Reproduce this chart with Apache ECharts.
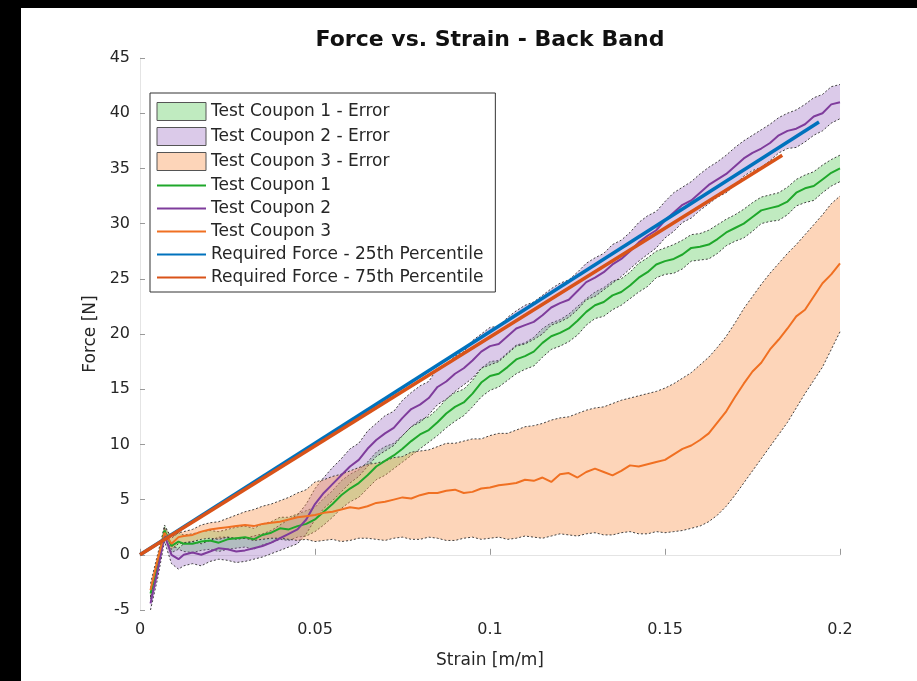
<!DOCTYPE html>
<html>
<head>
<meta charset="utf-8">
<title>Force vs. Strain - Back Band</title>
<script src="https://cdn.jsdelivr.net/npm/echarts@6/dist/echarts.min.js"></script>
<style>
  html, body { margin: 0; padding: 0; background: #000; overflow: hidden; }
  #chart { position: absolute; left: 21px; top: 8px; width: 896px; height: 673px; background: #fff; }
</style>
</head>
<body>
<div id="chart"></div>
<script>
// strain samples shared by all three coupons
const strain = [0.003, 0.005, 0.007, 0.009, 0.011, 0.0125,
  0.015, 0.0175, 0.02, 0.0225, 0.025, 0.0275, 0.03, 0.0325, 0.035, 0.0375,
  0.04, 0.0425, 0.045, 0.0475, 0.05, 0.0525, 0.055, 0.0575, 0.06, 0.0625,
  0.065, 0.0675, 0.07, 0.0725, 0.075, 0.0775, 0.08, 0.0825, 0.085, 0.0875,
  0.09, 0.0925, 0.095, 0.0975, 0.1, 0.1025, 0.105, 0.1075, 0.11, 0.1125,
  0.115, 0.1175, 0.12, 0.1225, 0.125, 0.1275, 0.13, 0.1325, 0.135, 0.1375,
  0.14, 0.1425, 0.145, 0.1475, 0.15, 0.1525, 0.155, 0.1575, 0.16, 0.1625,
  0.165, 0.1675, 0.17, 0.1725, 0.175, 0.1775, 0.18, 0.1825, 0.185, 0.1875,
  0.19, 0.1925, 0.195, 0.1975, 0.2];

const coupon1 = [-3.5, -1.0, 2.2, 0.8, 1.2, 1.0,
  1.0, 1.2, 1.3, 1.1, 1.4, 1.5, 1.6, 1.4, 1.8, 2.0,
  2.4, 2.3, 2.6, 2.8, 3.2, 3.9, 4.6, 5.4, 6.0, 6.5,
  7.2, 8.0, 8.5, 9.0, 9.6, 10.3, 10.9, 11.3, 12.0, 12.8,
  13.4, 13.8, 14.6, 15.6, 16.2, 16.4, 17.0, 17.7, 18.0, 18.4,
  19.2, 19.8, 20.1, 20.5, 21.2, 22.0, 22.6, 22.9, 23.5, 23.8,
  24.4, 25.1, 25.6, 26.3, 26.6, 26.8, 27.2, 27.8, 27.9, 28.1,
  28.6, 29.2, 29.6, 30.0, 30.6, 31.2, 31.4, 31.6, 32.0, 32.8,
  33.2, 33.4, 34.0, 34.6, 35.0];
const coupon1Hi = [-3.0, -0.5, 2.7, 1.5, 2.0, 1.8,
  1.9, 2.1, 2.2, 2.1, 2.3, 2.5, 2.6, 2.4, 2.8, 3.0,
  3.4, 3.4, 3.7, 4.0, 4.3, 5.1, 5.8, 6.7, 7.3, 7.7,
  8.4, 9.3, 9.8, 10.1, 10.8, 11.6, 12.2, 12.5, 13.2, 14.1,
  14.7, 15.0, 15.8, 16.9, 17.5, 17.6, 18.3, 19.0, 19.2, 19.7,
  20.5, 21.0, 21.3, 21.8, 22.5, 23.2, 23.8, 24.2, 24.8, 25.0,
  25.6, 26.4, 26.9, 27.5, 27.8, 28.1, 28.5, 29.0, 29.1, 29.4,
  29.9, 30.4, 30.8, 31.3, 31.9, 32.4, 32.6, 32.8, 33.3, 34.0,
  34.4, 34.7, 35.3, 35.8, 36.2];
const coupon1Lo = [-4.0, -1.5, 1.7, 0.2, 0.5, 0.3,
  0.2, 0.4, 0.5, 0.3, 0.5, 0.6, 0.7, 0.5, 0.9, 1.1,
  1.4, 1.3, 1.6, 1.7, 2.1, 2.7, 3.4, 4.2, 4.8, 5.2,
  6.0, 6.8, 7.2, 7.8, 8.4, 9.0, 9.6, 10.2, 10.8, 11.5,
  12.1, 12.6, 13.4, 14.3, 14.9, 15.2, 15.8, 16.4, 16.8, 17.1,
  17.9, 18.6, 18.9, 19.3, 19.9, 20.8, 21.4, 21.6, 22.2, 22.6,
  23.2, 23.8, 24.3, 25.1, 25.4, 25.5, 25.9, 26.6, 26.7, 26.8,
  27.3, 28.0, 28.4, 28.7, 29.3, 30.0, 30.2, 30.3, 30.8, 31.6,
  31.9, 32.1, 32.8, 33.4, 33.8];

const coupon2 = [-4.4, -1.5, 1.8, 0.0, -0.4, 0.0,
  0.2, 0.0, 0.3, 0.6, 0.5, 0.3, 0.4, 0.6, 0.8, 1.1,
  1.5, 1.9, 2.3, 3.2, 4.6, 5.6, 6.4, 7.2, 8.0, 8.6,
  9.6, 10.4, 11.0, 11.5, 12.4, 13.2, 13.6, 14.2, 15.2, 15.7,
  16.4, 16.9, 17.6, 18.4, 18.9, 19.1, 19.8, 20.5, 20.8, 21.1,
  21.7, 22.4, 22.8, 23.1, 23.9, 24.7, 25.1, 25.6, 26.3, 26.8,
  27.5, 28.3, 28.9, 29.4, 30.3, 31.0, 31.7, 32.1, 32.8, 33.5,
  34.0, 34.5, 35.2, 35.9, 36.4, 36.8, 37.3, 38.0, 38.4, 38.6,
  39.0, 39.7, 40.0, 40.8, 41.0];
const coupon2Hi = [-3.8, -0.8, 2.4, 0.8, 0.6, 1.0,
  1.2, 1.0, 1.3, 1.6, 1.6, 1.4, 1.5, 1.7, 1.9, 2.2,
  2.7, 3.2, 3.6, 4.6, 6.0, 7.0, 7.9, 8.7, 9.6, 10.1,
  11.2, 11.9, 12.6, 13.0, 14.0, 14.7, 15.3, 15.7, 16.9, 17.2,
  18.0, 18.4, 19.4, 20.0, 20.6, 20.7, 21.5, 22.1, 22.6, 22.9,
  23.5, 24.1, 24.6, 24.9, 25.6, 26.4, 26.9, 27.3, 28.1, 28.5,
  29.2, 30.1, 30.7, 31.1, 32.0, 32.8, 33.3, 33.8, 34.5, 35.1,
  35.6, 36.2, 36.9, 37.5, 38.0, 38.5, 39.0, 39.6, 40.0, 40.3,
  40.8, 41.4, 41.7, 42.4, 42.6];
const coupon2Lo = [-5.0, -2.2, 1.2, -0.8, -1.3, -1.0,
  -0.8, -1.0, -0.6, -0.4, -0.5, -0.7, -0.6, -0.4, -0.2, 0.1,
  0.4, 0.7, 1.0, 1.9, 3.2, 4.2, 4.9, 5.7, 6.5, 7.1,
  8.0, 8.9, 9.4, 9.9, 10.8, 11.6, 12.0, 12.7, 13.6, 14.1,
  14.8, 15.4, 16.0, 16.9, 17.2, 17.5, 18.2, 18.9, 19.1, 19.5,
  20.0, 20.8, 21.1, 21.5, 22.2, 23.1, 23.4, 24.0, 24.6, 25.2,
  25.9, 26.6, 27.2, 27.8, 28.7, 29.3, 30.1, 30.5, 31.2, 31.8,
  32.4, 32.8, 33.5, 34.3, 34.8, 35.1, 35.7, 36.4, 36.8, 36.9,
  37.4, 38.0, 38.4, 39.1, 39.5];

const coupon3 = [-3.2, -0.5, 2.0, 1.0, 1.6, 1.7,
  1.8, 2.1, 2.3, 2.4, 2.5, 2.6, 2.7, 2.6, 2.8, 2.9,
  3.0, 3.2, 3.4, 3.5, 3.6, 3.8, 3.9, 4.1, 4.3, 4.2,
  4.4, 4.7, 4.8, 5.0, 5.2, 5.1, 5.4, 5.6, 5.6, 5.8,
  5.9, 5.6, 5.7, 6.0, 6.1, 6.3, 6.4, 6.5, 6.8, 6.7,
  7.0, 6.6, 7.3, 7.4, 7.0, 7.5, 7.8, 7.5, 7.2, 7.6,
  8.1, 8.0, 8.2, 8.4, 8.6, 9.1, 9.6, 9.9, 10.4, 11.0,
  12.0, 13.0, 14.3, 15.5, 16.6, 17.4, 18.6, 19.5, 20.5, 21.6,
  22.2, 23.4, 24.6, 25.4, 26.4];
const coupon3Hi = [-2.6, 0.0, 2.5, 1.6, 2.0, 2.1,
  2.3, 2.7, 2.9, 3.0, 3.3, 3.6, 3.9, 4.1, 4.4, 4.6,
  4.9, 5.2, 5.6, 5.9, 6.6, 6.8, 7.1, 7.3, 7.6, 7.9,
  8.2, 8.3, 8.5, 8.8, 8.9, 9.3, 9.4, 9.5, 9.8, 10.1,
  10.1, 10.3, 10.5, 10.5, 10.8, 11.0, 11.0, 11.3, 11.6, 11.7,
  11.9, 12.2, 12.4, 12.5, 12.8, 13.1, 13.3, 13.4, 13.7, 14.0,
  14.2, 14.4, 14.6, 14.8, 15.1, 15.5, 16.0, 16.5, 17.2, 17.9,
  18.8, 19.8, 21.0, 22.3, 23.4, 24.5, 25.5, 26.4, 27.3, 28.1,
  29.0, 29.9, 30.8, 31.8, 32.5];
const coupon3Lo = [-3.8, -1.0, 1.5, 0.5, 1.0, 1.1,
  1.2, 1.4, 1.5, 1.4, 1.6, 1.5, 1.5, 1.3, 1.4, 1.5,
  1.5, 1.4, 1.3, 1.4, 1.2, 1.3, 1.4, 1.2, 1.3, 1.5,
  1.5, 1.4, 1.3, 1.5, 1.6, 1.4, 1.4, 1.6, 1.5, 1.3,
  1.3, 1.5, 1.6, 1.4, 1.5, 1.6, 1.4, 1.5, 1.7, 1.6,
  1.5, 1.7, 1.9, 1.8, 1.7, 1.9, 2.0, 1.8, 1.8, 2.0,
  2.1, 1.9, 1.9, 2.1, 2.0, 2.1, 2.2, 2.4, 2.6, 3.0,
  3.6, 4.4, 5.4, 6.5, 7.6, 8.7, 9.8, 10.9, 12.0, 13.3,
  14.6, 15.8, 17.0, 18.6, 20.2];

// required force lines: [strain, force] end points
const required25 = [[0, 0], [0.194, 39.2]];
const required75 = [[0, 0], [0.1835, 36.2]];

const xTickLabels = ['0', '0.05', '0.1', '0.15', '0.2'];
const yTickLabels = ['-5', '0', '5', '10', '15', '20', '25', '30', '35', '40', '45'];

const FONT = 'DejaVu Sans';
const TXT = '#262626';

const pairs = (ys) => strain.map((x, i) => [x, ys[i]]);

const edgeStyle = { stroke: '#2e2e2e', lineWidth: 0.9, lineDash: [2, 2], fill: null };

// error band: filled polygon between lo and hi with dashed edges
function band(name, lo, hi, fill) {
  return {
    name, type: 'custom', coordinateSystem: 'cartesian2d', silent: true,
    itemStyle: { color: fill },
    data: [[strain[0], lo[0]]],
    renderItem: (params, api) => {
      const top = strain.map((x, i) => api.coord([x, hi[i]]));
      const bottom = strain.map((x, i) => api.coord([x, lo[i]]));
      return {
        type: 'group',
        children: [
          { type: 'polygon', shape: { points: top.concat(bottom.slice().reverse()) }, style: { fill } },
          { type: 'polyline', shape: { points: top }, style: edgeStyle },
          { type: 'polyline', shape: { points: bottom }, style: edgeStyle },
        ],
      };
    },
  };
}

function curve(name, data, color, width) {
  return { name, type: 'line', data, symbol: 'none', color, lineStyle: { color, width } };
}

const fills = {
  c1: 'rgba(80,200,80,0.36)',
  c2: 'rgba(150,100,190,0.34)',
  c3: 'rgba(250,150,80,0.4)',
};

const bandIcon = (color) => ({ color, borderColor: '#555', borderWidth: 1 });
const lineIcon = { opacity: 0 };

const chart = echarts.init(document.getElementById('chart'));

chart.setOption({
  animation: false,
  grid: { left: 119, right: 77, top: 50, bottom: 71, containLabel: false },
  graphic: [{
    type: 'text', x: 469, y: 32,
    style: { text: 'Force vs. Strain - Back Band', font: 'bold 22px "' + FONT + '"',
      fill: '#111', textAlign: 'center', textVerticalAlign: 'middle' },
  }],
  legend: {
    orient: 'vertical', left: 129, top: 85,
    itemWidth: 49, itemHeight: 18, itemGap: 6,
    padding: [9, 12, 6, 6],
    borderColor: '#333', borderWidth: 1, borderRadius: 0, backgroundColor: '#fff',
    textStyle: { fontFamily: FONT, fontSize: 17, color: TXT },
    data: [
      { name: 'Test Coupon 1 - Error', icon: 'rect', itemStyle: bandIcon(fills.c1) },
      { name: 'Test Coupon 2 - Error', icon: 'rect', itemStyle: bandIcon(fills.c2) },
      { name: 'Test Coupon 3 - Error', icon: 'rect', itemStyle: bandIcon(fills.c3) },
      { name: 'Test Coupon 1', itemStyle: lineIcon },
      { name: 'Test Coupon 2', itemStyle: lineIcon },
      { name: 'Test Coupon 3', itemStyle: lineIcon },
      { name: 'Required Force - 25th Percentile', itemStyle: lineIcon },
      { name: 'Required Force - 75th Percentile', itemStyle: lineIcon },
    ],
  },
  xAxis: {
    type: 'value', min: 0, max: 0.2, interval: 0.05,
    name: 'Strain [m/m]', nameLocation: 'middle', nameGap: 42,
    nameTextStyle: { fontFamily: FONT, fontSize: 17, color: TXT },
    axisLine: { show: true, lineStyle: { color: '#e4e4e4', width: 1 } },
    axisTick: { show: true, inside: true, length: 6, lineStyle: { color: '#999' } },
    axisLabel: { fontFamily: FONT, fontSize: 16, color: TXT, margin: 12,
      formatter: (v) => xTickLabels[Math.round(v / 0.05)] },
    splitLine: { show: false },
  },
  yAxis: {
    type: 'value', min: -5, max: 45, interval: 5,
    name: 'Force [N]', nameLocation: 'middle', nameGap: 40,
    nameTextStyle: { fontFamily: FONT, fontSize: 17, color: TXT },
    axisLine: { show: true, lineStyle: { color: '#e4e4e4', width: 1 } },
    axisTick: { show: true, inside: true, length: 5, lineStyle: { color: '#999' } },
    axisLabel: { fontFamily: FONT, fontSize: 16, color: TXT, margin: 10,
      formatter: (v) => yTickLabels[Math.round((v + 5) / 5)] },
    splitLine: { show: false },
  },
  series: [
    band('Test Coupon 1 - Error', coupon1Lo, coupon1Hi, fills.c1),
    band('Test Coupon 2 - Error', coupon2Lo, coupon2Hi, fills.c2),
    band('Test Coupon 3 - Error', coupon3Lo, coupon3Hi, fills.c3),
    curve('Test Coupon 1', pairs(coupon1), '#1fa82b', 2),
    curve('Test Coupon 2', pairs(coupon2), '#7f3c9c', 2),
    curve('Test Coupon 3', pairs(coupon3), '#f07022', 2),
    curve('Required Force - 25th Percentile', required25, '#0072BD', 3.5),
    curve('Required Force - 75th Percentile', required75, '#D95319', 3.5),
  ],
});
</script>
</body>
</html>
